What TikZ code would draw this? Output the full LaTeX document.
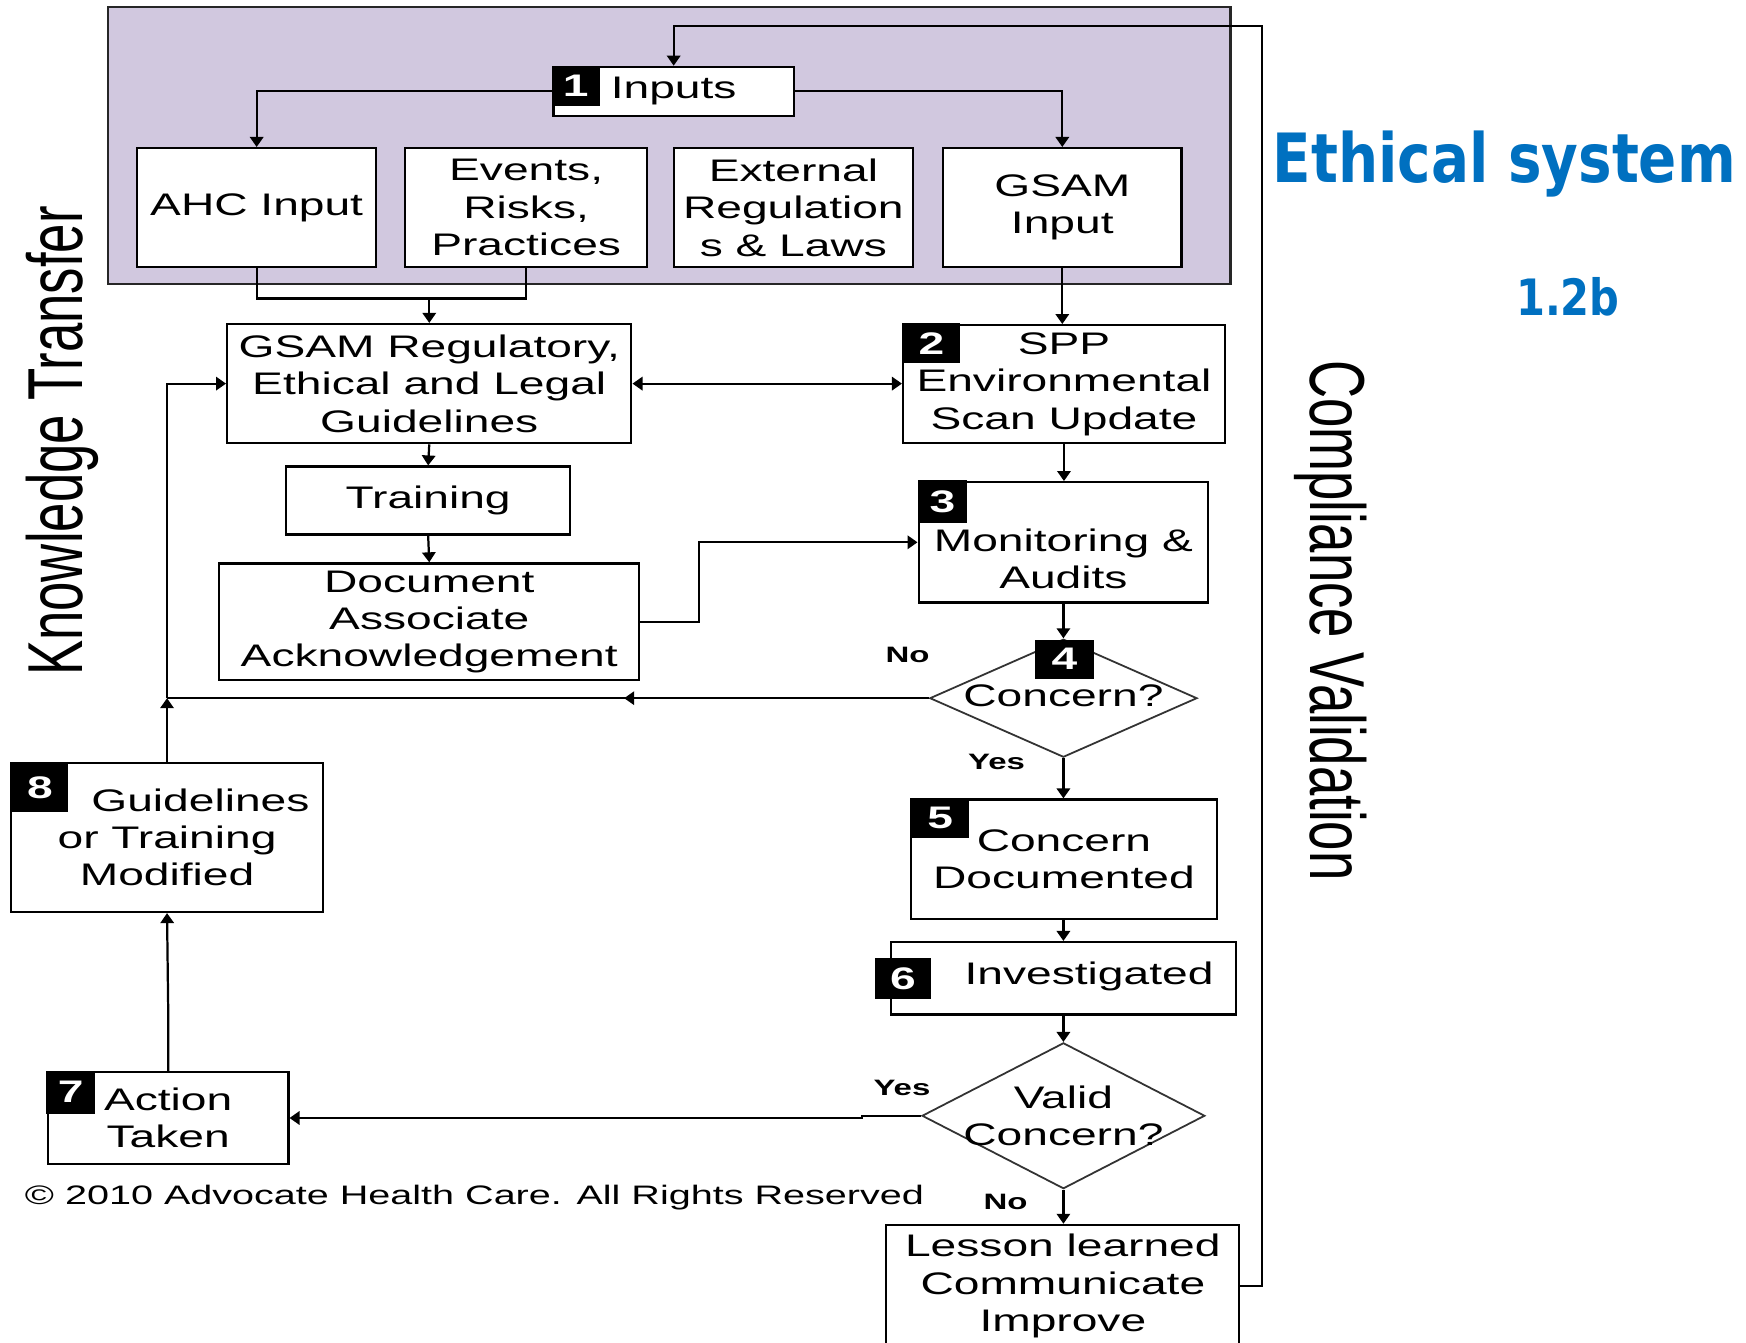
\documentclass[tikz,border=0pt]{standalone}
\usepackage{fontspec}
\setmainfont{Liberation Sans}
\newfontfamily\boxfont[FakeStretch=1.48]{Liberation Sans}
\newfontfamily\sidefont[FakeStretch=0.676]{Liberation Sans}
\newfontfamily\headfont[FakeStretch=0.83]{DejaVu Sans}
\usetikzlibrary{shapes.geometric,arrows.meta,decorations.markings}
\definecolor{panel}{RGB}{209,200,223}
\definecolor{titleblue}{RGB}{0,112,192}
\tikzset{
  box/.style={draw=black, line width=1pt, fill=white, align=center, inner sep=1pt,
    font=\boxfont\fontsize{14}{16.75}\selectfont},
  txt/.style={align=center, inner sep=0pt, font=\boxfont\fontsize{14}{16.75}\selectfont},
  badge/.style={fill=black, text=white, inner sep=0pt, anchor=north west,
    font=\boxfont\bfseries\fontsize{14}{14}\selectfont},
  decision/.style={diamond, draw=black!80, line width=0.8pt, fill=white, inner sep=0pt},
  yn/.style={inner sep=0pt, font=\boxfont\bfseries\fontsize{10}{12}\selectfont},
  link/.style={line width=1pt},
  arr/.style={line width=1pt, -{Triangle[length=4.5pt,width=6pt]}},
  dblarr/.style={line width=1pt, {Triangle[length=4.5pt,width=6pt]}-{Triangle[length=4.5pt,width=6pt]}},
  midarr/.style={line width=1pt, postaction={decorate},
    decoration={markings, mark=at position 0.4 with {\arrow{Triangle[length=4.5pt,width=6pt]}}}},
  sidetext/.style={inner sep=0pt, anchor=base, font=\sidefont\fontsize{35}{40}\selectfont}
}
\begin{document}
\begin{tikzpicture}[x=0.5pt,y=-0.5pt]
\useasboundingbox (0,0) rectangle (1568,1206);
\fill[white] (0,0) rectangle (1568,1206);

% input panel
\draw[fill=panel, draw=black!85, line width=1pt] (97,6) rectangle (1105,255);

% headings
\node[anchor=base, inner sep=0pt, text=titleblue, font=\headfont\bfseries\fontsize{30.5}{36}\selectfont] (title) at (1351,164) {Ethical system};
\node[anchor=base, inner sep=0pt, text=titleblue, font=\headfont\bfseries\fontsize{22.5}{26}\selectfont] (sub) at (1408,283) {1.2b};
\node[sidetext, rotate=90] (kt) at (74,396) {Knowledge Transfer};
\node[sidetext, rotate=-90] (cv) at (1177,557) {Compliance Validation};

% input row
\node[box, minimum width=108pt, minimum height=22pt] (inputs) at (605,82) {Inputs};
\node[box, minimum width=107.5pt, minimum height=53.5pt] (ahc) at (230.5,186.5) {AHC Input};
\node[box, minimum width=108.5pt, minimum height=53.5pt] (events) at (472.5,186.5) {Events,\\Risks,\\Practices};
\node[box, minimum width=107.5pt, minimum height=53.5pt] (external) at (712.5,186.5) {External\\Regulation\\s \& Laws};
\node[box, minimum width=107pt, minimum height=53.5pt] (gsamin) at (954,186.5) {GSAM\\Input};

% left column
\node[box, minimum width=181.5pt, minimum height=53.5pt] (reg) at (385.5,344.5) {GSAM Regulatory,\\Ethical and Legal\\Guidelines};
\node[box, minimum width=127.5pt, minimum height=30.5pt] (training) at (384.5,449.5) {Training};
\node[box, minimum width=188.5pt, minimum height=52.5pt] (doc) at (385.5,558.5) {Document\\Associate\\Acknowledgement};
\node[box, minimum width=140pt, minimum height=67pt] (mod) at (150,752) {\hspace*{30pt}Guidelines\\or Training\\Modified};
\node[box, minimum width=108pt, minimum height=41pt] (action) at (151,1004) {Action\\Taken};

% right column
\node[box, minimum width=144.5pt, minimum height=53pt] (spp) at (955.5,345) {SPP\\Environmental\\Scan Update};
\node[box, minimum width=130pt, minimum height=54pt] (mon) at (955,487) {};
\node[txt] (montext) at (955,502) {Monitoring \&\\Audits};
\node[decision, minimum width=120pt, minimum height=53pt] (concern) at (955,627) {};
\node[txt] (concerntext) at (955,625) {Concern?};
\node[box, minimum width=137.5pt, minimum height=53.5pt] (doc5) at (955.5,771.5) {Concern\\Documented};
\node[box, minimum width=155pt, minimum height=32.5pt] (inv) at (955,878.5) {};
\node[txt] (invtext) at (978,877) {Investigated};
\node[decision, minimum width=127pt, minimum height=65.5pt] (valid) at (955,1002) {};
\node[txt] (validtext) at (955,1002) {Valid\\Concern?};
\node[box, minimum width=158.5pt, minimum height=55pt] (lesson) at (954.5,1155) {Lesson learned\\Communicate\\Improve};

% step numbers
\node[badge, minimum width=21.5pt, minimum height=18pt] (b1) at (495,59) {1};
\node[badge, minimum width=26pt, minimum height=18pt] (b2) at (810,290) {2};
\node[badge, minimum width=22pt, minimum height=19pt] (b3) at (824,431) {3};
\node[badge, minimum width=26.5pt, minimum height=17.5pt] (b4) at (929,574) {4};
\node[badge, minimum width=26pt, minimum height=17.5pt] (b5) at (818,717) {5};
\node[badge, minimum width=25.5pt, minimum height=18.5pt] (b6) at (785,860) {6};
\node[badge, minimum width=22pt, minimum height=19.5pt] (b7) at (41,961) {7};
\node[badge, minimum width=25.5pt, minimum height=22pt] (b8) at (10,685) {8};

% branch labels
\node[yn] (no1) at (815,588) {No};
\node[yn] (yes1) at (895,684) {Yes};
\node[yn] (yes2) at (810,977) {Yes};
\node[yn] (no2) at (903,1079) {No};

% footer
\node[anchor=base west, inner sep=0pt, font=\boxfont\fontsize{12}{14}\selectfont] (copy) at (22,1082) {© 2010 Advocate Health Care. All Rights Reserved};

% junction points
\coordinate (merge) at (385.5,268);
\coordinate (nojoin) at (150,627);
\coordinate (fbtop) at (1133,23);

% connectors
\draw[arr] (inputs.west) -| (ahc.north);
\draw[arr] (inputs.east) -| (gsamin.north);
\draw[link] (ahc.south) |- (events.south |- merge) -- (events.south);
\draw[arr] (merge) -- (reg.north);
\draw[arr] (gsamin.south) -- (gsamin.south |- spp.north);
\draw[dblarr] (reg.east) -- (reg.east -| spp.west);
\draw[arr] (reg.south) -- (training.north);
\draw[arr] (training.south) -- (doc.north);
\draw[arr] (doc.east) -- ++(53,0) |- (mon.west);
\draw[arr] (spp.south) -- (spp.south |- mon.north);
\draw[arr] (mon.south) -- (concern.north);
\draw[midarr] (concern.west) -- (nojoin);
\draw[arr] (mod.north) -- (nojoin);
\draw[arr] (nojoin) |- (reg.west);
\draw[arr] (concern.south) -- (concern.south |- doc5.north);
\draw[arr] (doc5.south |- doc5.south) -- (doc5.south -| inv.north) -- (inv.north);
\draw[arr] (inv.south) -- (valid.north);
\draw[arr] (valid.west) -- ++(-53,0) -- ++(0,2) -- (action.east);
\draw[arr] (action.north) -- ++(0,-60) -- (mod.south);
\draw[arr] (valid.south) -- (valid.south |- lesson.north);
\draw[arr] (lesson.east) -| (fbtop) -| (inputs.north);
\end{tikzpicture}
\end{document}
